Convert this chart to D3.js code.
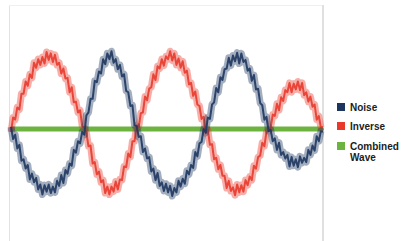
<!DOCTYPE html>
<html>
<head>
<meta charset="utf-8">
<script src="https://cdn.jsdelivr.net/npm/d3@7"></script>
<style>
  body { margin: 0; background: #fff; }
  .legend-label { font-family: 'Liberation Sans', Arial, sans-serif; font-weight: bold; font-size: 10px; fill: #1c1c1c; }
</style>
</head>
<body>
<div id="chart"></div>
<script>
// sample values, one per step (index = step)
const noise = [
  3,-14,-8,-27,-22,-44,-42,-55,-50,-70,-62,-74,-68,-84,-77,-91,-78,-87,-77,-89,-80,-88,-72,-79,-64,-75,-57,-62,-48,-51,-29,-33,-17,-20,-4,-8,
  19,23,42,42,67,65,80,77,97,90,105,97,108,92,97,83,89,73,76,53,51,32,33,5,4,
  -11,-10,-32,-27,-41,-39,-59,-55,-71,-61,-79,-74,-86,-76,-88,-79,-93,-82,-88,-72,-80,-69,-76,-58,-63,-50,-54,-32,-38,-20,-18,0,-5,
  16,14,34,37,57,51,72,68,83,84,99,88,102,94,106,91,105,93,96,81,84,67,75,55,56,36,33,13,17,-3,
  -1,-17,-13,-29,-19,-36,-32,-41,-36,-52,-39,-51,-42,-53,-38,-47,-40,-46,-29,-36,-23,-30,-10,-17,-3,-4
];
const inverse = [
  -4,16,13,30,27,49,49,66,60,76,71,92,85,97,89,100,91,107,96,105,93,103,89,92,77,84,70,71,51,58,37,38,23,26,4,2,
  -5,-24,-23,-48,-46,-63,-59,-74,-71,-89,-80,-91,-80,-87,-73,-84,-70,-71,-52,-53,-34,-39,-17,-17,5,
  3,22,23,45,40,56,58,76,68,87,84,97,88,101,97,108,95,105,89,98,85,94,78,81,62,64,46,52,34,32,14,17,-6,
  -1,-22,-21,-42,-40,-56,-50,-65,-65,-82,-72,-86,-81,-92,-77,-88,-78,-87,-71,-78,-66,-71,-51,-55,-39,-37,-19,-24,-4,-3,
  2,20,18,35,26,44,39,54,51,64,51,63,55,66,54,64,47,51,38,45,31,34,13,18,2,3
];
const combinedSteps = [0, 149];
const combined = [0, 0];

const seriesNames = ['Noise', 'Inverse', 'Combined', 'Wave'];
const colors = ['#1d3660', '#e8392b', '#6cb33f'];

const width = 402;
const height = 241;

const svg = d3.select('#chart')
              .append('svg')
              .attr('width', width)
              .attr('height', height);

// soft edge, like the scanned original
svg.append('defs')
   .append('filter')
   .attr('id', 'soft')
   .append('feGaussianBlur')
   .attr('stdDeviation', 0.6);

const xScale = d3.scaleLinear()
                 .domain([0, noise.length - 1])
                 .range([11, 323]);

const yScale = d3.scaleLinear()
                 .domain([-100, 100])
                 .range([201, 57]);

// plot frame
svg.append('line')
   .attr('x1', 9.5).attr('x2', 9.5)
   .attr('y1', 5).attr('y2', height)
   .attr('stroke', '#e2e2e2');
svg.append('line')
   .attr('x1', 9).attr('x2', 323)
   .attr('y1', 5.5).attr('y2', 5.5)
   .attr('stroke', '#f0f0f0');
svg.append('line')
   .attr('x1', 323).attr('x2', 323)
   .attr('y1', 5).attr('y2', height)
   .attr('stroke', '#e0e0e0')
   .attr('stroke-width', 2);

const line = d3.line()
               .x((d, i) => xScale(i))
               .y((d) => yScale(d));

svg.append('path')
   .datum(combined)
   .attr('d', d3.line()
                .x((d, i) => xScale(combinedSteps[i]))
                .y((d) => yScale(d)))
   .attr('fill', 'none')
   .attr('stroke', colors[2])
   .attr('stroke-width', 5);

function drawWave(values, color) {
  const g = svg.append('g').attr('filter', 'url(#soft)');
  g.append('path')
   .datum(values)
   .attr('d', line)
   .attr('fill', 'none')
   .attr('stroke', color)
   .attr('stroke-width', 7)
   .attr('stroke-linejoin', 'round')
   .attr('opacity', 0.4);
  g.append('path')
   .datum(values)
   .attr('d', line)
   .attr('fill', 'none')
   .attr('stroke', color)
   .attr('stroke-width', 2)
   .attr('stroke-linejoin', 'round')
   .attr('opacity', 0.9);
}

drawWave(inverse, colors[1]);
drawWave(noise, colors[0]);

// legend
const legend = svg.append('g')
                  .attr('transform', 'translate(337, 103)');

const legendRows = [0, 19, 39];

legend.selectAll('rect')
      .data(colors)
      .enter()
      .append('rect')
      .attr('x', 0)
      .attr('y', (d, i) => legendRows[i])
      .attr('width', 8)
      .attr('height', 8)
      .attr('fill', (d) => d);

legend.selectAll('text')
      .data(seriesNames)
      .enter()
      .append('text')
      .attr('class', 'legend-label')
      .attr('x', 13)
      .attr('y', (d, i) => i < 3 ? legendRows[i] + 8 : legendRows[2] + 19)
      .text((d) => d);
</script>
</body>
</html>
